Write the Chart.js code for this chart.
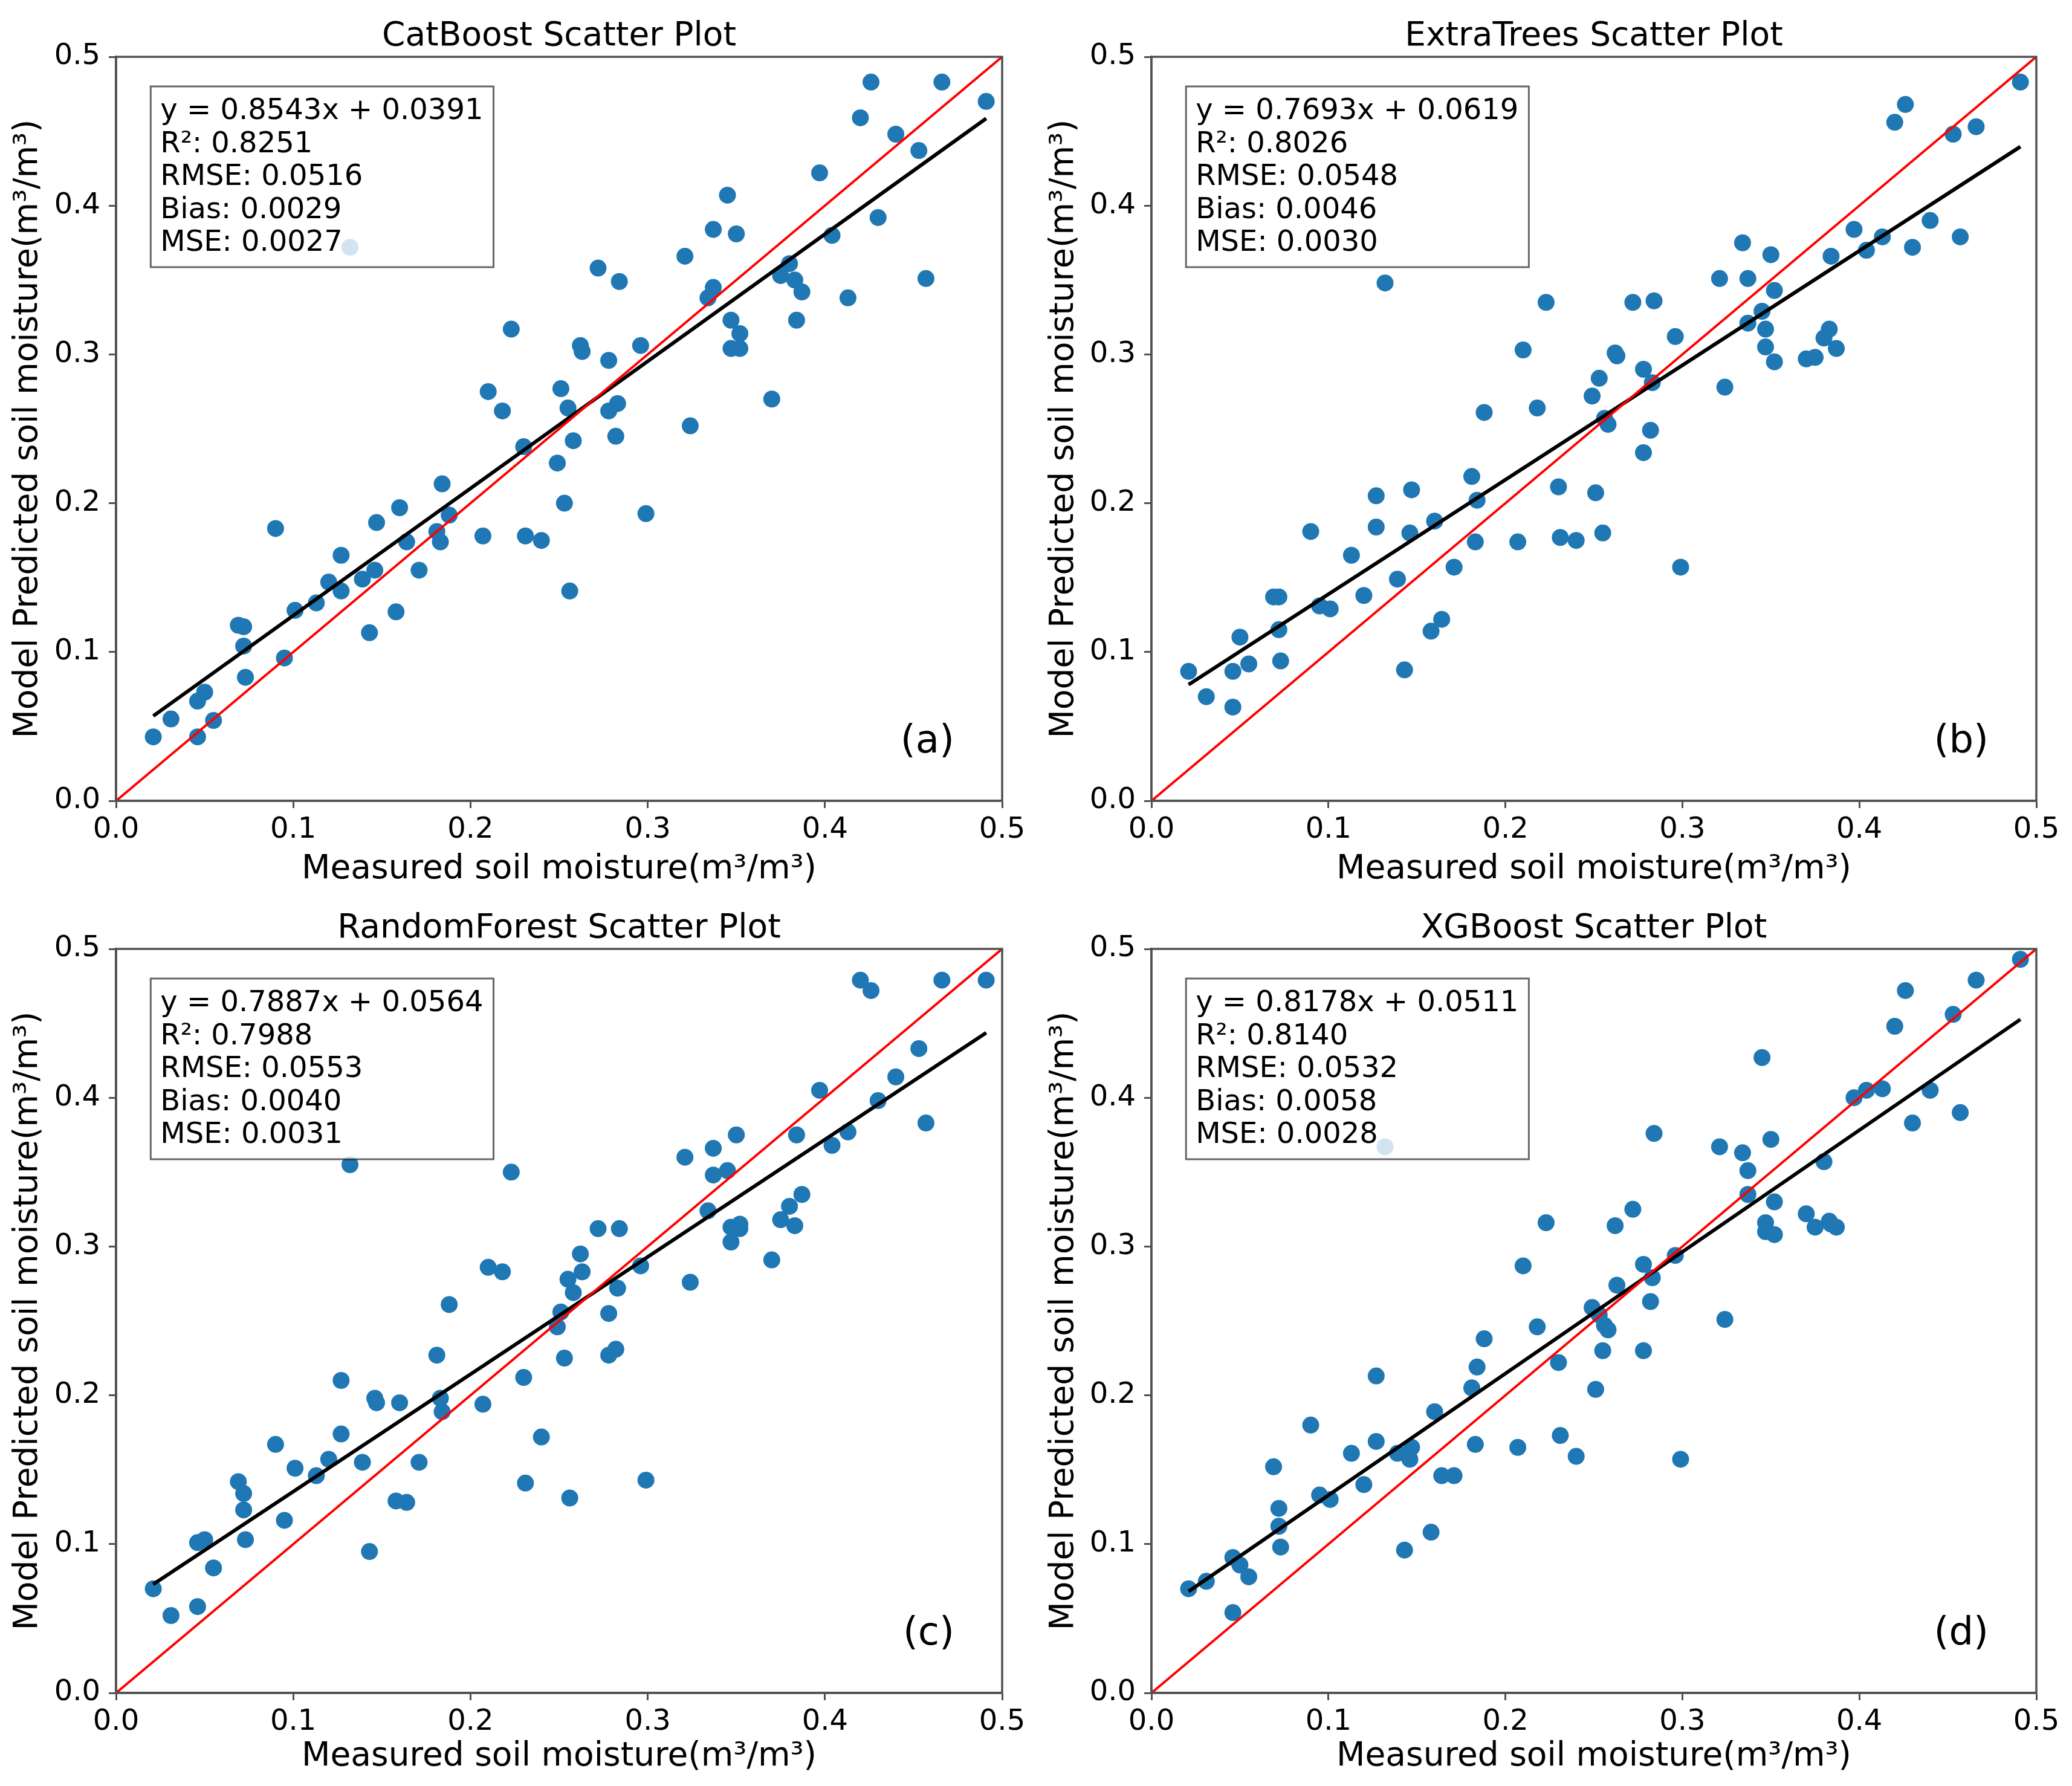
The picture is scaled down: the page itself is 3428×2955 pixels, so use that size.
<!DOCTYPE html>
<html><head><meta charset="utf-8">
<script src="https://cdn.jsdelivr.net/npm/chart.js@4.4.1/dist/chart.umd.min.js"></script>
<style>
html,body{margin:0;padding:0;background:#fff;}
body{width:3428px;height:2955px;position:relative;overflow:hidden;}
.panel{position:absolute;}
</style></head><body>
<div class="panel" style="left:0px;top:0px;width:1714px;height:1476px"><canvas id="c0"></canvas></div>
<div class="panel" style="left:1714px;top:0px;width:1714px;height:1476px"><canvas id="c1"></canvas></div>
<div class="panel" style="left:0px;top:1476px;width:1714px;height:1479px"><canvas id="c2"></canvas></div>
<div class="panel" style="left:1714px;top:1476px;width:1714px;height:1479px"><canvas id="c3"></canvas></div>
<script>
// ---------------- data ----------------
const modelNames = ["CatBoost", "ExtraTrees", "RandomForest", "XGBoost"];
const panelLabels = ["(a)", "(b)", "(c)", "(d)"];
const tickValues = [0.0, 0.1, 0.2, 0.3, 0.4, 0.5];
const axisRange = [0.0, 0.5];
const xTitle = "Measured soil moisture(m\u00b3/m\u00b3)";
const yTitle = "Model Predicted soil moisture(m\u00b3/m\u00b3)";

const measured = [0.021,0.031,0.046,0.046,0.050,0.055,0.069,0.072,0.072,0.073,
  0.090,0.095,0.101,0.113,0.120,0.127,0.127,0.132,0.139,0.143,
  0.146,0.147,0.158,0.160,0.164,0.171,0.181,0.183,0.184,0.188,
  0.207,0.210,0.218,0.223,0.230,0.231,0.240,0.249,0.251,0.253,
  0.255,0.256,0.258,0.262,0.263,0.272,0.278,0.278,0.282,0.283,
  0.284,0.296,0.299,0.321,0.324,0.334,0.337,0.337,0.345,0.347,
  0.347,0.350,0.352,0.352,0.370,0.375,0.380,0.383,0.384,0.387,
  0.397,0.404,0.413,0.420,0.426,0.430,0.440,0.453,0.457,0.466,0.491];

const catboostPred = [0.043,0.055,0.043,0.067,0.073,0.054,0.118,0.117,0.104,0.083,
  0.183,0.096,0.128,0.133,0.147,0.165,0.141,0.372,0.149,0.113,
  0.155,0.187,0.127,0.197,0.174,0.155,0.181,0.174,0.213,0.192,
  0.178,0.275,0.262,0.317,0.238,0.178,0.175,0.227,0.277,0.200,
  0.264,0.141,0.242,0.306,0.302,0.358,0.296,0.262,0.245,0.267,
  0.349,0.306,0.193,0.366,0.252,0.338,0.345,0.384,0.407,0.323,
  0.304,0.381,0.314,0.304,0.270,0.353,0.361,0.350,0.323,0.342,
  0.422,0.380,0.338,0.459,0.483,0.392,0.448,0.437,0.351,0.483,0.470];

const extraTreesPred = [0.087,0.070,0.063,0.087,0.110,0.092,0.137,0.137,0.115,0.094,
  0.181,0.131,0.129,0.165,0.138,0.205,0.184,0.348,0.149,0.088,
  0.180,0.209,0.114,0.188,0.122,0.157,0.218,0.174,0.202,0.261,
  0.174,0.303,0.264,0.335,0.211,0.177,0.175,0.272,0.207,0.284,
  0.180,0.257,0.253,0.301,0.299,0.335,0.234,0.290,0.249,0.281,
  0.336,0.312,0.157,0.351,0.278,0.375,0.351,0.321,0.329,0.305,
  0.317,0.367,0.343,0.295,0.297,0.298,0.311,0.317,0.366,0.304,
  0.384,0.370,0.379,0.456,0.468,0.372,0.390,0.448,0.379,0.453,0.483];

const randomForestPred = [0.070,0.052,0.058,0.101,0.103,0.084,0.142,0.134,0.123,0.103,
  0.167,0.116,0.151,0.146,0.157,0.210,0.174,0.355,0.155,0.095,
  0.198,0.195,0.129,0.195,0.128,0.155,0.227,0.198,0.189,0.261,
  0.194,0.286,0.283,0.350,0.212,0.141,0.172,0.246,0.256,0.225,
  0.278,0.131,0.269,0.295,0.283,0.312,0.227,0.255,0.231,0.272,
  0.312,0.287,0.143,0.360,0.276,0.324,0.366,0.348,0.351,0.303,
  0.313,0.375,0.312,0.315,0.291,0.318,0.327,0.314,0.375,0.335,
  0.405,0.368,0.377,0.479,0.472,0.398,0.414,0.433,0.383,0.479,0.479];

const xgboostPred = [0.070,0.075,0.054,0.091,0.086,0.078,0.152,0.124,0.112,0.098,
  0.180,0.133,0.130,0.161,0.140,0.213,0.169,0.367,0.161,0.096,
  0.157,0.165,0.108,0.189,0.146,0.146,0.205,0.167,0.219,0.238,
  0.165,0.287,0.246,0.316,0.222,0.173,0.159,0.259,0.204,0.254,
  0.230,0.247,0.244,0.314,0.274,0.325,0.230,0.288,0.263,0.279,
  0.376,0.294,0.157,0.367,0.251,0.363,0.351,0.335,0.427,0.316,
  0.310,0.372,0.330,0.308,0.322,0.313,0.357,0.317,0.315,0.313,
  0.400,0.405,0.406,0.448,0.472,0.383,0.405,0.456,0.390,0.479,0.493];

const predictions = [catboostPred, extraTreesPred, randomForestPred, xgboostPred];
const slopes = [0.8543, 0.7693, 0.7887, 0.8178];
const intercepts = [0.0391, 0.0619, 0.0564, 0.0511];
const r2Values = [0.8251, 0.8026, 0.7988, 0.8140];
const rmseValues = [0.0516, 0.0548, 0.0553, 0.0532];
const biasValues = [0.0029, 0.0046, 0.0040, 0.0058];
const mseValues = [0.0027, 0.0030, 0.0031, 0.0028];

// ---------------- drawing ----------------
const FONT = "'DejaVu Sans', 'Liberation Sans', sans-serif";
const SPINE = '#505050';

const overlayPlugin = {
  id: 'overlay',
  afterDatasetsDraw(chart, args, opts) {
    const {ctx, chartArea: a} = chart;
    const i = opts.idx;
    ctx.save();
    // full frame (all four spines)
    ctx.strokeStyle = SPINE; ctx.lineWidth = 3.5;
    ctx.strokeRect(a.left, a.top, a.right - a.left, a.bottom - a.top);
    // statistics box
    const lines = [
      'y = ' + slopes[i].toFixed(4) + 'x + ' + intercepts[i].toFixed(4),
      'R\u00b2: ' + r2Values[i].toFixed(4),
      'RMSE: ' + rmseValues[i].toFixed(4),
      'Bias: ' + biasValues[i].toFixed(4),
      'MSE: ' + mseValues[i].toFixed(4)
    ];
    ctx.font = '48px ' + FONT;
    const tx = a.left + 0.05 * (a.right - a.left);
    const by0 = a.top + 103;
    const lh = 54.5;
    const w = Math.max(...lines.map(l => ctx.measureText(l).width));
    const bx = tx - 16, bt = by0 - 54, bw = w + 33, bh = (lines.length - 1) * lh + 54 + 27;
    ctx.fillStyle = 'rgba(255,255,255,0.8)';
    ctx.fillRect(bx, bt, bw, bh);
    ctx.strokeStyle = 'rgba(0,0,0,0.6)'; ctx.lineWidth = 3;
    ctx.strokeRect(bx, bt, bw, bh);
    ctx.fillStyle = '#000'; ctx.textAlign = 'left'; ctx.textBaseline = 'alphabetic';
    lines.forEach((l, k) => ctx.fillText(l, tx, by0 + k * lh));
    // panel label
    ctx.font = '64px ' + FONT;
    ctx.textAlign = 'right'; ctx.textBaseline = 'middle';
    ctx.fillText(panelLabels[i], a.right - 79, a.bottom - 97);
    ctx.restore();
  }
};

function makeChart(idx, yAxisW, rightPad, xAxisH, xTitlePad) {
  const pts = measured.map((x, k) => ({x: x, y: predictions[idx][k]}));
  const xMin = Math.min(...measured), xMax = Math.max(...measured);
  const fit = [xMin, xMax].map(x => ({x: x, y: slopes[idx] * x + intercepts[idx]}));
  const oneToOne = axisRange.map(v => ({x: v, y: v}));
  const axisCommon = (isX) => ({
    type: 'linear',
    min: axisRange[0], max: axisRange[1],
    afterBuildTicks: s => { s.ticks = tickValues.map(v => ({value: v})); },
    ticks: {
      callback: v => Number(v).toFixed(1),
      font: {family: FONT, size: 48}, color: '#000',
      padding: isX ? 8 : 14, maxRotation: 0, autoSkip: false
    },
    grid: {drawOnChartArea: false, drawTicks: true, tickLength: 12, tickWidth: 3, tickColor: SPINE},
    border: {display: true, color: SPINE, width: 3.5}
  });
  const xs = axisCommon(true);
  xs.position = 'bottom';
  xs.title = {display: true, text: xTitle, font: {family: FONT, size: 55, lineHeight: 1.2}, color: '#000', padding: {top: 0, bottom: xTitlePad}};
  xs.afterFit = s => { s.height = xAxisH; };
  const ys = axisCommon(false);
  ys.position = 'left';
  ys.title = {display: true, text: yTitle, font: {family: FONT, size: 55, lineHeight: 1.2}, color: '#000', padding: {top: 14, bottom: 0}};
  ys.afterFit = s => { s.width = yAxisW; };

  return new Chart(document.getElementById('c' + idx), {
    type: 'scatter',
    data: {
      datasets: [
        {label: 'data', data: pts, backgroundColor: '#1f77b4', borderWidth: 0, pointRadius: 14, pointHoverRadius: 14, order: 3},
        {label: 'fit', data: fit, showLine: true, borderColor: '#000000', borderWidth: 6, pointRadius: 0, fill: false, order: 2},
        {label: '1:1', data: oneToOne, showLine: true, borderColor: '#ff0000', borderWidth: 4, pointRadius: 0, fill: false, order: 1}
      ]
    },
    options: {
      responsive: true, maintainAspectRatio: false, animation: false, devicePixelRatio: 1,
      layout: {padding: {left: 0, right: rightPad, top: 0, bottom: 0}},
      events: [],
      plugins: {
        legend: {display: false},
        tooltip: {enabled: false},
        title: {display: true, fullSize: false, text: modelNames[idx] + ' Scatter Plot', color: '#000',
                font: {family: FONT, size: 55, weight: 'normal', lineHeight: 1.2}, padding: {top: 28, bottom: 0}},
        overlay: {idx: idx}
      },
      scales: {x: xs, y: ys}
    },
    plugins: [overlayPlugin]
  });
}

makeChart(0, 192, 56, 151, 4);
makeChart(1, 191, 59, 151, 4);
makeChart(2, 192, 56, 154, 15);
makeChart(3, 191, 59, 154, 15);
</script>
</body></html>
